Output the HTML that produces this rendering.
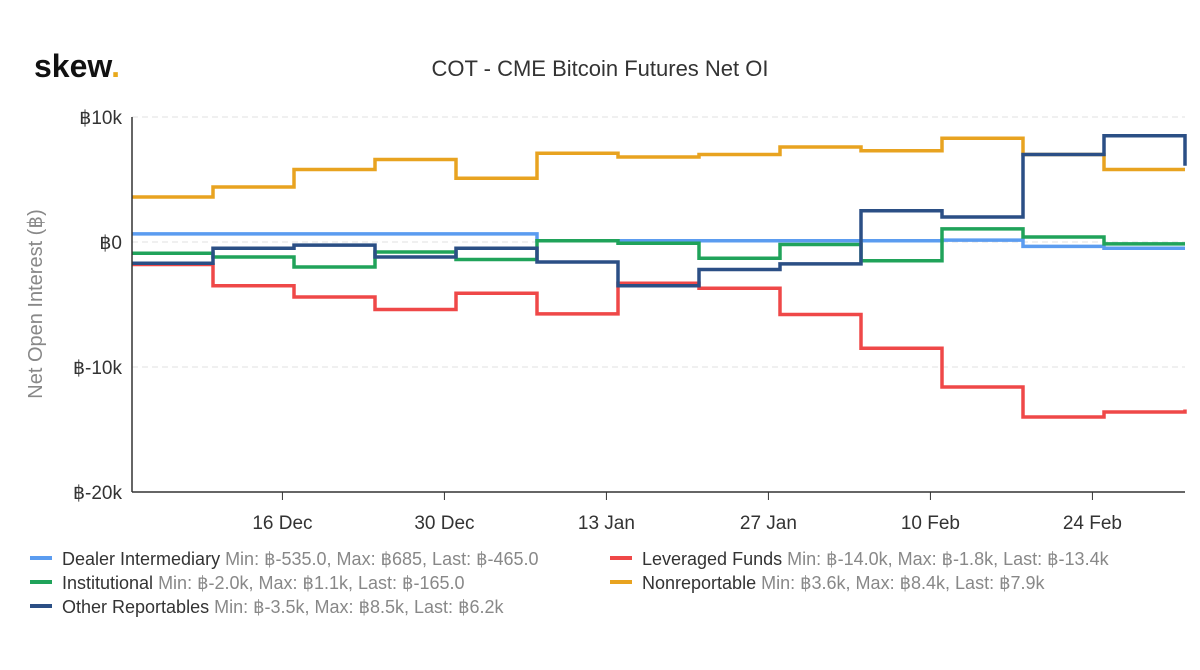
<!DOCTYPE html>
<html><head><meta charset="utf-8"><style>
body{margin:0;background:#fff;font-family:"Liberation Sans",sans-serif}
svg{display:block}
</style></head><body>
<svg width="1200" height="670" xmlns="http://www.w3.org/2000/svg">
<text x="34" y="77" font-size="32" font-weight="bold" fill="#111">skew<tspan fill="#e8a91c">.</tspan></text>
<text x="600" y="76" text-anchor="middle" font-size="22" fill="#333">COT - CME Bitcoin Futures Net OI</text>
<text transform="translate(42,304) rotate(-90)" text-anchor="middle" font-size="20" fill="#888">Net Open Interest (฿)</text>
<g id="grid"></g><g id="yt"></g><g id="xt"></g><g id="series"></g>
<line x1="132" y1="117" x2="132" y2="492" stroke="#333" stroke-width="1.5"/>
<line x1="132" y1="492" x2="1185" y2="492" stroke="#333" stroke-width="1.5"/>
<g id="legend" font-size="18" fill="#888"></g>
</svg>
<script>
const dates=["2019-12-03","2019-12-10","2019-12-17","2019-12-24","2019-12-31","2020-01-07","2020-01-14","2020-01-21","2020-01-28","2020-02-04","2020-02-11","2020-02-18","2020-02-25","2020-03-03"];
const dealer=[0.65,0.65,0.65,0.65,0.65,0.1,0.1,0.1,0.1,0.1,0.15,-0.35,-0.5,-0.5];
const leveraged=[-1.8,-3.5,-4.4,-5.4,-4.1,-5.75,-3.3,-3.7,-5.8,-8.5,-11.6,-14.0,-13.6,-13.4];
const institutional=[-0.9,-1.2,-2.0,-0.8,-1.4,0.1,-0.1,-1.3,-0.2,-1.5,1.05,0.4,-0.15,-0.15];
const nonreportable=[3.6,4.4,5.8,6.6,5.1,7.1,6.8,7.0,7.6,7.3,8.3,7.0,5.8,5.8];
const otherRep=[-1.7,-0.5,-0.25,-1.2,-0.5,-1.6,-3.5,-2.2,-1.75,2.5,2.0,7.0,8.5,6.1];
const yTicks=[10,0,-10,-20];
const yLabels=["฿10k","฿0","฿-10k","฿-20k"];
const xTickDates=["2019-12-16","2019-12-30","2020-01-13","2020-01-27","2020-02-10","2020-02-24"];
const xLabels=["16 Dec","30 Dec","13 Jan","27 Jan","10 Feb","24 Feb"];
const NS="http://www.w3.org/2000/svg";
const t0=Date.parse("2019-12-03"),t1=Date.parse("2020-03-03");
const X=d=>132+(Date.parse(d)-t0)/(t1-t0)*(1185-132);
const Y=v=>242-v*12.5;
function mk(tag,attrs,parent){const e=document.createElementNS(NS,tag);for(const k in attrs)e.setAttribute(k,attrs[k]);document.getElementById(parent).appendChild(e);return e;}
yTicks.forEach((v,i)=>{
 if(v!==-20){const g=mk('line',{x1:132,x2:1185,y1:Y(v),y2:Y(v),stroke:'#e2e2e2','stroke-dasharray':'6,4'},'grid');
 
 }
 const t=mk('text',{x:122,y:Y(v)+7,'text-anchor':'end','font-size':19,fill:'#333'},'yt');t.textContent=yLabels[i];
 
 
});
xTickDates.forEach((d,i)=>{
 const l=mk('line',{x1:X(d),x2:X(d),y1:492,y2:500,stroke:'#333'},'xt');
 
 
 const t=mk('text',{x:X(d),y:529,'text-anchor':'middle','font-size':19,fill:'#333'},'xt');t.textContent=xLabels[i];
 
 
});
const series=[
 {n:"Dealer Intermediary",d:dealer,c:"#5b9cf0",s:"Min: ฿-535.0, Max: ฿685, Last: ฿-465.0",lx:30,ly:558,id:'dealer'},
 {n:"Leveraged Funds",d:leveraged,c:"#ef4848",s:"Min: ฿-14.0k, Max: ฿-1.8k, Last: ฿-13.4k",lx:610,ly:558,id:'leveraged'},
 {n:"Institutional",d:institutional,c:"#20a35a",s:"Min: ฿-2.0k, Max: ฿1.1k, Last: ฿-165.0",lx:30,ly:582,id:'institutional'},
 {n:"Nonreportable",d:nonreportable,c:"#e8a320",s:"Min: ฿3.6k, Max: ฿8.4k, Last: ฿7.9k",lx:610,ly:582,id:'nonreportable'},
 {n:"Other Reportables",d:otherRep,c:"#2b4f85",s:"Min: ฿-3.5k, Max: ฿8.5k, Last: ฿6.2k",lx:30,ly:606,id:'other-reportables'}];
series.forEach(s=>{
 let p="";
 s.d.forEach((v,i)=>{const x=X(dates[i]),y=Y(v);
  if(i===0)p+=`M${x},${y}`;else p+=`V${y}`;
  if(i<s.d.length-1)p+=`H${X(dates[i+1])}`;});
 const e=mk('path',{d:p,fill:'none',stroke:s.c,'stroke-width':3.5},'series');
 
 
 const m=mk('line',{x1:s.lx,x2:s.lx+22,y1:s.ly,y2:s.ly,stroke:s.c,'stroke-width':4},'legend');
 
 
 const t=mk('text',{x:s.lx+32,y:s.ly+7},'legend');
 t.innerHTML=`<tspan fill="#333">${s.n}</tspan> ${s.s}`;
 
 
});
</script>
</body></html>
